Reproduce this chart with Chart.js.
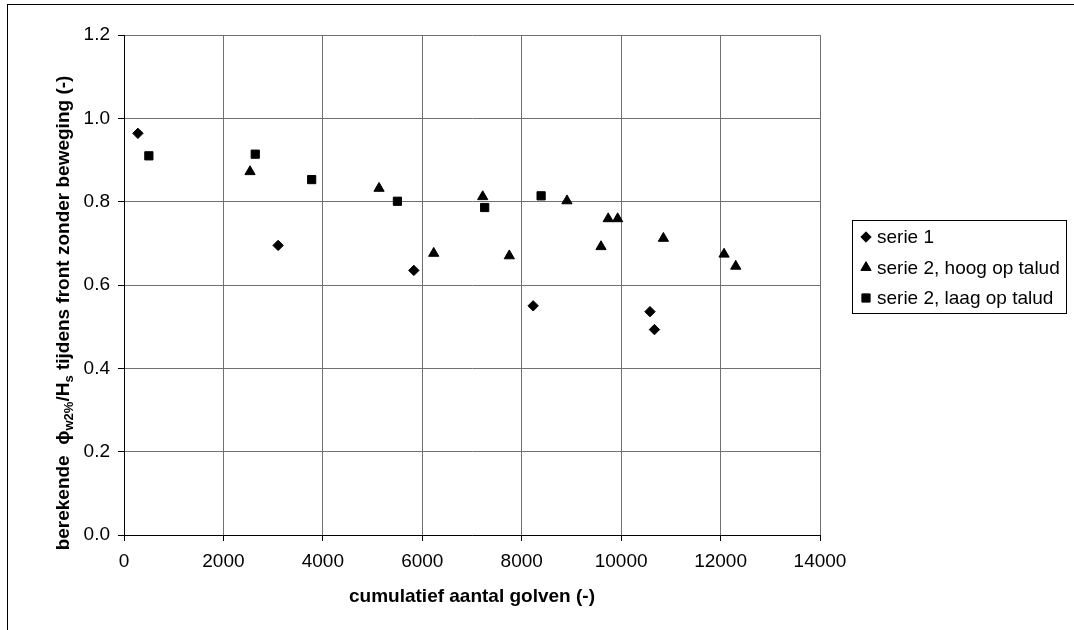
<!DOCTYPE html>
<html>
<head>
<meta charset="utf-8">
<script src="https://cdn.jsdelivr.net/npm/chart.js@4.4.0/dist/chart.umd.min.js"></script>
<style>
  html, body { margin: 0; padding: 0; background: #fff; }
  #wrap { width: 1074px; height: 630px; position: relative; }
</style>
</head>
<body>
<div id="wrap"><canvas id="c" width="1074" height="630"></canvas></div>
<script>
// Measurements: cumulative number of waves vs. computed run-up ratio
const serie1X = [280, 3100, 5830, 8230, 10580, 10670];
const serie1Y = [0.964, 0.695, 0.635, 0.550, 0.536, 0.493];

const hoogX = [2535, 5130, 6230, 7215, 7750, 8910, 9595, 9740, 9930, 10850, 12070, 12305];
const hoogY = [0.872, 0.832, 0.676, 0.812, 0.670, 0.802, 0.692, 0.759, 0.759, 0.712, 0.674, 0.645];

const laagX = [500, 2640, 3775, 5500, 7255, 8390];
const laagY = [0.910, 0.914, 0.853, 0.801, 0.786, 0.814];

const seriesNames = ['serie 1', 'serie 2, hoog op talud', 'serie 2, laag op talud'];

const xTickValues = [0, 2000, 4000, 6000, 8000, 10000, 12000, 14000];
const xTickLabels = ['0', '2000', '4000', '6000', '8000', '10000', '12000', '14000'];
const yTickValues = [0, 0.2, 0.4, 0.6, 0.8, 1.0, 1.2];
const yTickLabels = ['0.0', '0.2', '0.4', '0.6', '0.8', '1.0', '1.2'];

const xTitle = 'cumulatief aantal golven (-)';

const FONT = "'Liberation Sans', Arial, sans-serif";
const FS = 19;
Chart.defaults.font.family = FONT;
Chart.defaults.font.size = FS;
Chart.defaults.color = '#000';

const toPoints = (xs, ys) => xs.map((x, i) => ({ x: x, y: ys[i] }));

const marker = {
  diamond: { pointStyle: 'rectRot', radius: 5.2 },
  triangle: { pointStyle: 'triangle', radius: 5.9 },
  square: { pointStyle: 'rect', radius: 5.8 }
};

// White page plus the outer chart frame
const framePlugin = {
  id: 'frame',
  beforeDraw(chart) {
    const ctx = chart.ctx;
    ctx.save();
    ctx.fillStyle = '#fff';
    ctx.fillRect(0, 0, chart.width, chart.height);
    ctx.strokeStyle = '#000';
    ctx.lineWidth = 1;
    ctx.strokeRect(7.5, 4.5, chart.width + 20, chart.height + 20);
    ctx.restore();
  }
};

// Rotated y-axis title with sub-scripts
const yTitlePlugin = {
  id: 'yTitle',
  afterDraw(chart) {
    const ctx = chart.ctx;
    const area = chart.chartArea;
    const big = 'bold ' + FS + 'px ' + FONT;
    const small = 'bold ' + Math.round(FS * 0.68) + 'px ' + FONT;
    const parts = [
      { t: 'berekende  ', f: big, dy: 0 },
      { t: '\u03D5', f: big, dy: 0 },
      { t: 'w2%', f: small, dy: 4 },
      { t: '/H', f: big, dy: 0 },
      { t: 's', f: small, dy: 4 },
      { t: ' tijdens front zonder beweging (-)', f: big, dy: 0 }
    ];
    ctx.save();
    let total = 0;
    parts.forEach(p => { ctx.font = p.f; p.w = ctx.measureText(p.t).width; total += p.w; });
    const cy = (area.top + area.bottom) / 2 + 28;
    ctx.translate(69, cy);
    ctx.rotate(-Math.PI / 2);
    ctx.fillStyle = '#000';
    ctx.textBaseline = 'alphabetic';
    ctx.textAlign = 'left';
    let x = -total / 2;
    parts.forEach(p => {
      ctx.font = p.f;
      ctx.fillText(p.t, x, p.dy);
      x += p.w;
    });
    ctx.restore();
  }
};

// Boxed legend at the right of the plot
const legendPlugin = {
  id: 'boxLegend',
  afterDraw(chart) {
    const ctx = chart.ctx;
    const box = { x: 852.5, y: 220.5, w: 214, h: 93 };
    ctx.save();
    ctx.strokeStyle = '#000';
    ctx.lineWidth = 1;
    ctx.strokeRect(box.x, box.y, box.w, box.h);
    ctx.font = FS + 'px ' + FONT;
    ctx.textBaseline = 'middle';
    ctx.textAlign = 'left';
    chart.data.datasets.forEach((ds, i) => {
      const cy = 237 + i * 30.5;
      const opts = {
        pointStyle: ds.pointStyle,
        radius: ds.pointRadius,
        rotation: 0,
        borderWidth: 1
      };
      ctx.fillStyle = '#000';
      ctx.strokeStyle = '#000';
      ctx.lineWidth = 1;
      Chart.helpers.drawPoint(ctx, opts, 866, cy);
      ctx.fillStyle = '#000';
      ctx.fillText(ds.label, 877, cy + 1);
    });
    ctx.restore();
  }
};

const commonDs = {
  showLine: false,
  backgroundColor: '#000',
  borderColor: '#000',
  pointBorderWidth: 1,
  pointBackgroundColor: '#000',
  pointBorderColor: '#000'
};

new Chart(document.getElementById('c'), {
  type: 'scatter',
  data: {
    datasets: [
      Object.assign({}, commonDs, {
        label: seriesNames[0],
        data: toPoints(serie1X, serie1Y),
        pointStyle: marker.diamond.pointStyle,
        pointRadius: marker.diamond.radius
      }),
      Object.assign({}, commonDs, {
        label: seriesNames[1],
        data: toPoints(hoogX, hoogY),
        pointStyle: marker.triangle.pointStyle,
        pointRadius: marker.triangle.radius
      }),
      Object.assign({}, commonDs, {
        label: seriesNames[2],
        data: toPoints(laagX, laagY),
        pointStyle: marker.square.pointStyle,
        pointRadius: marker.square.radius
      })
    ]
  },
  options: {
    responsive: false,
    animation: false,
    devicePixelRatio: 1,
    layout: { padding: { left: 0, right: 254, top: 35, bottom: 0 } },
    plugins: {
      legend: { display: false },
      tooltip: { enabled: false }
    },
    scales: {
      x: {
        type: 'linear',
        position: 'bottom',
        min: 0,
        max: 14000,
        afterBuildTicks(s) { s.ticks = xTickValues.map(v => ({ value: v })); },
        afterFit(s) { s.height = 95; },
        ticks: {
          padding: 9,
          color: '#000',
          font: { size: FS },
          maxRotation: 0,
          callback: (v, i) => xTickLabels[i]
        },
        grid: { color: '#707070', lineWidth: 1, tickColor: '#000', tickLength: 6 },
        border: { color: '#000', width: 1 },
        title: {
          display: true,
          text: xTitle,
          color: '#000',
          font: { size: FS, weight: 'bold' },
          padding: { top: 0, bottom: 22 }
        }
      },
      y: {
        type: 'linear',
        min: 0,
        max: 1.2,
        afterBuildTicks(s) { s.ticks = yTickValues.map(v => ({ value: v })); },
        afterFit(s) { s.width = 124; },
        ticks: {
          padding: 8,
          color: '#000',
          font: { size: FS },
          callback: (v, i) => yTickLabels[i]
        },
        grid: { color: '#707070', lineWidth: 1, tickColor: '#000', tickLength: 6 },
        border: { color: '#000', width: 1 }
      }
    }
  },
  plugins: [framePlugin, yTitlePlugin, legendPlugin]
});
</script>
</body>
</html>
